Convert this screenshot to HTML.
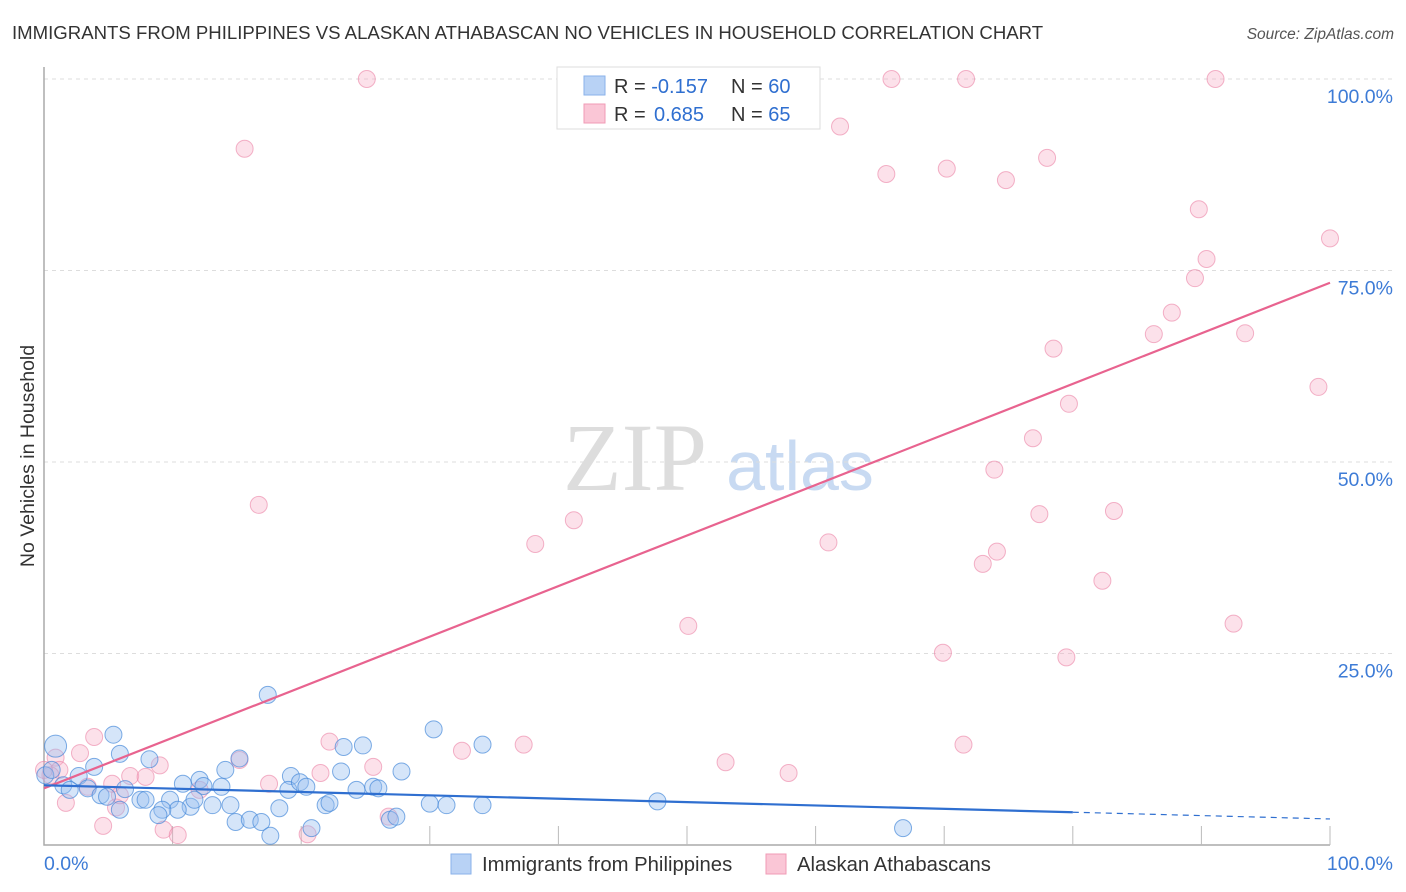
<!DOCTYPE html>
<html><head><meta charset="utf-8"><style>
body{margin:0;background:#fff;font-family:"Liberation Sans",sans-serif}
</style></head><body>
<svg id="c" width="1406" height="892" style="display:block">
<text x="12" y="39" font-size="18.6" fill="#333">IMMIGRANTS FROM PHILIPPINES VS ALASKAN ATHABASCAN NO VEHICLES IN HOUSEHOLD CORRELATION CHART</text>
<text x="1394" y="39" font-size="15.5" fill="#555" font-style="italic" text-anchor="end">Source: ZipAtlas.com</text>
<text x="34" y="456" font-size="19.5" fill="#333" text-anchor="middle" transform="rotate(-90 34 456)">No Vehicles in Household</text>
<g>
<text x="635" y="490" font-size="96" fill="#ddd" font-family="Liberation Serif,serif" text-anchor="middle">ZIP</text>
<text x="800" y="490" font-size="70" fill="#c8daf2" text-anchor="middle">atlas</text>
</g>
<g id="grid"></g><g id="pts"></g><g id="lines"></g>
<g>
<rect x="557" y="67" width="263" height="62" fill="#fff" stroke="#ddd"/>
<rect x="584" y="76" width="21" height="19" fill="#b8d2f5" stroke="#8ab2ea"/>
<rect x="584" y="104" width="21" height="19" fill="#fac6d6" stroke="#f09bb6"/>
<text x="614" y="93" font-size="20" fill="#333">R = <tspan fill="#2f6fd0">-0.157</tspan><tspan x="731">N = </tspan><tspan fill="#2f6fd0">60</tspan></text>
<text x="614" y="121" font-size="20" fill="#333">R = <tspan x="654" fill="#2f6fd0">0.685</tspan><tspan x="731">N = </tspan><tspan fill="#2f6fd0">65</tspan></text>
</g>
<g>
<rect x="451" y="854" width="20" height="20" fill="#b8d2f5" stroke="#8ab2ea"/>
<text x="482" y="871" font-size="20.3" fill="#333">Immigrants from Philippines</text>
<rect x="766" y="854" width="20" height="20" fill="#fac6d6" stroke="#f09bb6"/>
<text x="797" y="871" font-size="20.3" fill="#333">Alaskan Athabascans</text>
</g>
</svg>
<script>
const yTicks=[25,50,75,100];
const yTickLabels=["25.0%","50.0%","75.0%","100.0%"];
const xTickLabels=["0.0%","100.0%"];
const pinkX=[25.1,65.9,71.7,91.1,15.6,61.9,65.5,70.2,74.8,78.0,89.8,100,90.4,89.5,87.7,86.3,93.4,78.5,99.1,79.7,76.9,73.9,16.7,41.2,38.2,77.4,83.2,61.0,74.1,73.0,82.3,50.1,69.9,79.5,92.5,71.5,37.3,32.5,22.2,53.0,57.9,25.6,21.5,15.2,17.5,9.0,6.7,7.9,5.3,3.9,2.8,0.9,1.2,1.7,3.4,5.6,4.6,9.3,10.4,20.5,26.8,0.5,0.0,5.9,12.1];
const pinkY=[100,100,100,100,90.9,93.8,87.6,88.3,86.8,89.7,83.0,79.2,76.5,74.0,69.5,66.7,66.8,64.8,59.8,57.6,53.1,49.0,44.4,42.4,39.3,43.2,43.6,39.5,38.3,36.7,34.5,28.6,25.1,24.5,28.9,13.1,13.1,12.3,13.5,10.8,9.4,10.2,9.4,11.1,8.0,10.4,9.0,8.9,8.0,14.1,12.0,11.4,9.8,5.5,7.6,4.9,2.5,2.0,1.3,1.4,3.7,9.1,9.8,6.5,7.2];
const blueX=[0.9,5.4,8.2,5.9,17.4,30.3,34.1,23.3,24.8,27.8,23.1,15.2,3.9,2.7,1.5,0.1,2.0,3.4,4.4,4.9,6.3,7.5,7.9,9.8,10.8,12.1,12.4,13.8,14.5,13.1,11.4,10.4,9.2,8.9,14.9,16.0,16.9,18.3,19.2,19.0,19.9,20.4,21.9,22.2,24.3,25.6,26.0,26.9,27.4,30.0,31.3,34.1,47.7,66.8,17.6,20.8,14.1,11.7,0.6,5.9];
const blueY=[12.9,14.4,11.2,11.9,19.6,15.1,13.1,12.8,13.0,9.6,9.6,11.3,10.2,9.0,7.8,9.1,7.2,7.4,6.5,6.3,7.3,5.9,5.9,5.9,8.0,8.5,7.7,7.6,5.2,5.2,5.0,4.6,4.6,3.9,3.0,3.3,3.0,4.8,9.0,7.2,8.2,7.6,5.2,5.5,7.2,7.6,7.4,3.3,3.7,5.4,5.2,5.2,5.7,2.2,1.2,2.2,9.8,5.9,9.8,4.6];
const pinkFit=[7.4,73.4];
const blueFit=[7.8,3.4];
const X0=44,X1=1330,Y0=845,Y1=79;
const sx=v=>X0+(X1-X0)*v/100, sy=v=>Y0-(Y0-Y1)*v/100;
const NS="http://www.w3.org/2000/svg";
function mk(t,a,p){const e=document.createElementNS(NS,t);for(const k in a)e.setAttribute(k,a[k]);p.appendChild(e);return e;}
const g=document.getElementById('grid');
yTicks.forEach((t,i)=>{
 const l=mk('line',{x1:X0,x2:1395,y1:sy(t),y2:sy(t),stroke:'#ddd','stroke-dasharray':'4,4'},g);
 
 
 const tx=mk('text',{x:1393,y:sy(t)+24,'font-size':19.5,fill:'#3d7bd6','text-anchor':'end'},g);
 tx.textContent=yTickLabels[i];
 
 
});
const ax=mk('path',{d:`M${X0} ${Y1-12}V${Y0}H${X1}`,fill:'none',stroke:'#aaa','stroke-width':1.5},g);


for(let i=1;i<=10;i++){const t=mk('line',{x1:sx(i*10),x2:sx(i*10),y1:Y0-19,y2:Y0,stroke:'#bbb'},g);
 
 }
[[X0,'start'],[1393,'end']].forEach((p,i)=>{const t=mk('text',{x:p[0],y:870,'font-size':19.5,fill:'#3d7bd6','text-anchor':p[1]},g);t.textContent=xTickLabels[i];
 
 });
const P=document.getElementById('pts');
pinkX.forEach((x,i)=>{const c=mk('circle',{cx:sx(x),cy:sy(pinkY[i]),r:8.5,fill:'rgba(247,170,195,0.35)',stroke:'rgba(235,130,165,0.6)'},P);
 
 });
blueX.forEach((x,i)=>{const c=mk('circle',{cx:sx(x),cy:sy(blueY[i]),r:i==0?11:8.5,fill:'rgba(150,190,240,0.4)',stroke:'rgba(60,130,215,0.65)'},P);
 
 });
const L=document.getElementById('lines');
const pl=mk('line',{x1:sx(0),y1:sy(pinkFit[0]),x2:sx(100),y2:sy(pinkFit[1]),stroke:'#e8638f','stroke-width':2.2},L);


const bm=blueFit[0]+(blueFit[1]-blueFit[0])*0.8;
const bl=mk('line',{x1:sx(0),y1:sy(blueFit[0]),x2:sx(80),y2:sy(bm),stroke:'#2f6fd0','stroke-width':2.2},L);


const bd=mk('line',{x1:sx(80),y1:sy(bm),x2:sx(100),y2:sy(blueFit[1]),stroke:'#2f6fd0','stroke-width':1.2,'stroke-dasharray':'6,5'},L);


</script>
</body></html>
